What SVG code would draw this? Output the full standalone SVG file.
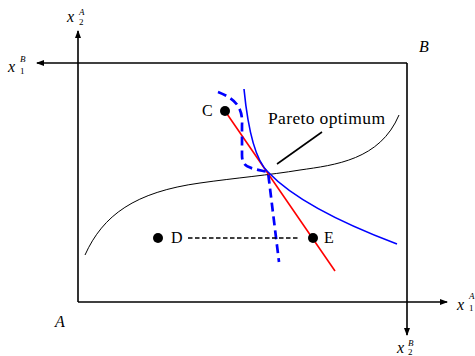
<svg xmlns="http://www.w3.org/2000/svg" width="475" height="356" viewBox="0 0 475 356">
<style>
.ax{fill:none;stroke:#000;stroke-width:1.6}
text{font-family:"Liberation Serif",serif;fill:#000}
.m{font-style:italic}
.n{font-style:normal;font-size:9px}
.dot{fill:#000}
</style>
<defs>
<marker id="ar" viewBox="0 0 8 6" refX="7" refY="3" markerWidth="8" markerHeight="6" markerUnits="userSpaceOnUse" orient="auto">
<path d="M0,0 L8,3 L0,6 Z" fill="#000"/>
</marker>
</defs>
<rect width="475" height="356" fill="#fff"/>
<g id="axes">
<path class="ax" d="M78,302 L78,31" marker-end="url(#ar)"/>
<path class="ax" d="M407,63 L37,63" marker-end="url(#ar)"/>
<path class="ax" d="M78,302 L447,302" marker-end="url(#ar)"/>
<path class="ax" d="M407,63 L407,335" marker-end="url(#ar)"/>
</g>
<g id="labels">
<text class="m" x="67" y="22" font-size="16">x</text><text class="m" x="79" y="15" font-size="9">A</text><text class="n" x="79" y="25">2</text>
<text class="m" x="8" y="72" font-size="16">x</text><text class="m" x="20" y="62" font-size="9">B</text><text class="n" x="20" y="74">1</text>
<text class="m" x="457" y="310" font-size="16">x</text><text class="m" x="469" y="299" font-size="9">A</text><text class="n" x="469" y="311">1</text>
<text class="m" x="397" y="353" font-size="16">x</text><text class="m" x="408" y="346" font-size="9">B</text><text class="n" x="408" y="355">2</text>
<text class="m" x="419" y="52" font-size="16">B</text>
<text class="m" x="55" y="327" font-size="16">A</text>
</g>
<g id="contract-curve">
<path d="M85,255 C103,215 135,192 200,183 C235,178 270,175 300,170 C335,165 380,160 399,115" fill="none" stroke="#000" stroke-width="1"/>
</g>
<g id="connectors">
<path d="M225,111 L335,271" stroke="#f00" stroke-width="1.6" fill="none"/>
<path d="M244,89 C248,130 255,160 268,172 C285,190 320,215 397,244" stroke="#00f" stroke-width="1.6" fill="none"/>
<path d="M218,92 C236,99 243,108 242,125 L242,155 C242,168 250,168 268,172 L279,262" stroke="#00f" stroke-width="2.7" fill="none" stroke-dasharray="9,5"/>
<path d="M188,238 L298,238" stroke="#000" stroke-width="1.5" stroke-dasharray="4.5,2.5" fill="none"/>
<path d="M277,164 L322,132" stroke="#000" stroke-width="1.6" fill="none"/>
</g>
<g id="node-C">
<circle class="dot" cx="225" cy="111" r="5"/>
<text x="202" y="116" font-size="16">C</text>
</g>
<g id="node-D">
<circle class="dot" cx="158" cy="238" r="5"/>
<text x="171" y="243" font-size="16">D</text>
</g>
<g id="node-E">
<circle class="dot" cx="313" cy="238" r="5"/>
<text x="324" y="243" font-size="16">E</text>
</g>
<g id="pareto-label">
<text x="268" y="124" font-size="17.5" textLength="117">Pareto optimum</text>
</g>
</svg>
